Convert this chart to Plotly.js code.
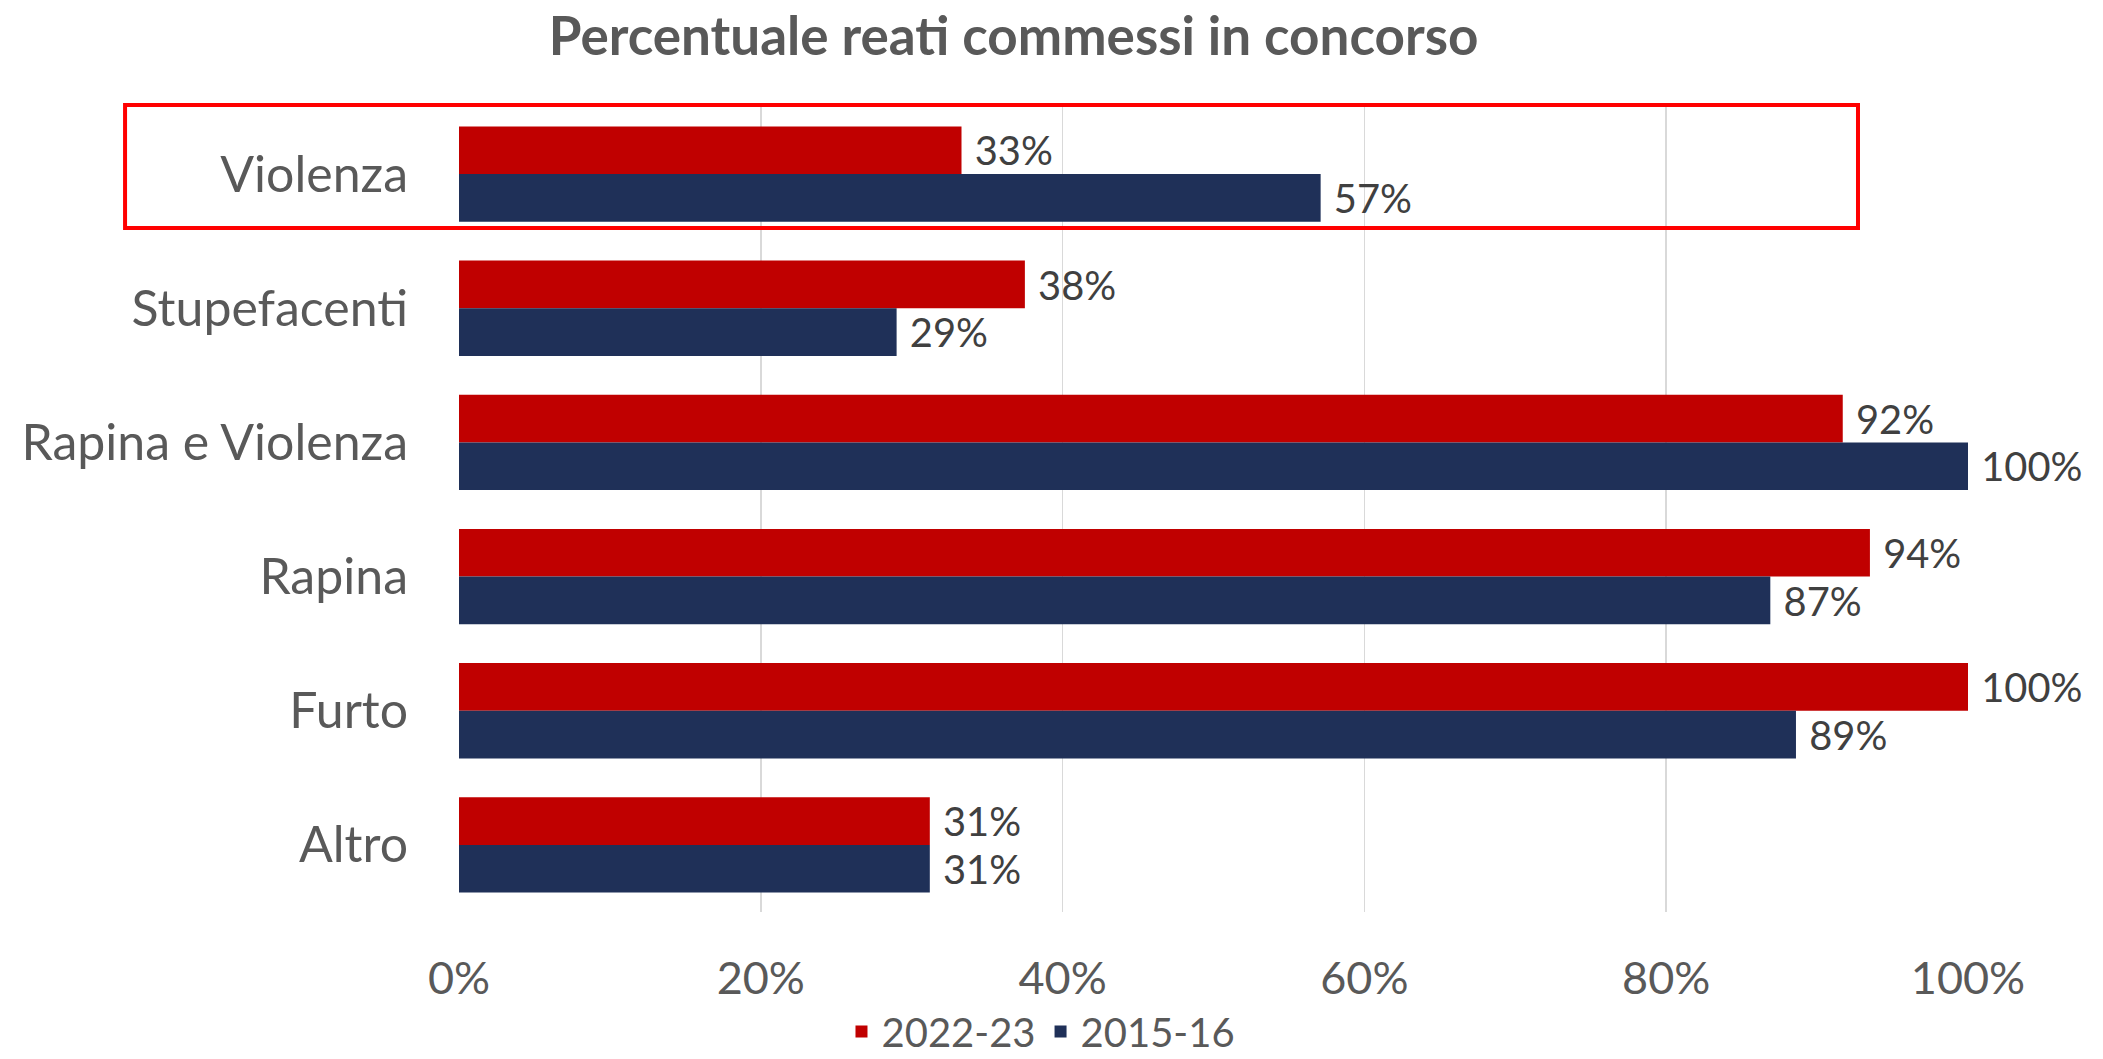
<!DOCTYPE html>
<html>
<head>
<meta charset="utf-8">
<script src="https://cdn.plot.ly/plotly-3.0.1.min.js"></script>
<style>html,body{margin:0;padding:0;background:#fff;}#chart{width:2103px;height:1059px;}</style>
</head>
<body>
<div id="chart"></div>
<script>
const categories = ["Violenza", "Stupefacenti", "Rapina e Violenza", "Rapina", "Furto", "Altro"];
const series2223 = [0.333, 0.375, 0.917, 0.935, 1.0, 0.312];
const series1516 = [0.571, 0.29, 1.0, 0.869, 0.886, 0.312];
const seriesNames = ["2022-23", "2015-16"];
const tickVals = [0, 0.2, 0.4, 0.6, 0.8, 1.0];
const tickText = ["0%", "20%", "40%", "60%", "80%", "100%"];

const FONT = "Lato, 'Open Sans', sans-serif";
const labelFont = {family: FONT, size: 46, color: "#404040"};
const fmt = v => "\u00A0" + Math.round(v*100) + "%";

const traces = [
  {type: "bar", orientation: "h", name: seriesNames[0], y: categories, x: series2223,
   marker: {color: "#C00000"}, text: series2223.map(fmt),
   textposition: "outside", textfont: labelFont, cliponaxis: false, hoverinfo: "skip"},
  {type: "bar", orientation: "h", name: seriesNames[1], y: categories, x: series1516,
   marker: {color: "#1F3058"}, text: series1516.map(fmt),
   textposition: "outside", textfont: labelFont, cliponaxis: false, hoverinfo: "skip"}
];

const layout = {
  width: 2103, height: 1059,
  margin: {l: 459, r: 135, t: 107, b: 147},
  paper_bgcolor: "#fff", plot_bgcolor: "#fff",
  font: {family: FONT, color: "#595959"},
  title: {text: "<b>Percentuale reati commessi in concorso</b>", font: {family: FONT, size: 53, color: "#595959"},
          xref: "container", x: 0.482, xanchor: "center", yref: "container", y: 0.966, yanchor: "middle"},
  barmode: "group", bargap: 0.29, bargroupgap: 0,
  xaxis: {range: [0, 1], tickvals: tickVals, ticktext: tickText, showgrid: true, gridcolor: "#D9D9D9", gridwidth: 1.5,
          zeroline: false, showline: false, ticks: "", ticklabelstandoff: 36,
          tickfont: {family: FONT, size: 45, color: "#595959"}, fixedrange: true},
  yaxis: {autorange: "reversed", type: "category", showgrid: false, zeroline: false, showline: false, ticks: "",
          ticklabelstandoff: 50, tickfont: {family: FONT, size: 50, color: "#595959"}, fixedrange: true},
  showlegend: true,
  legend: {orientation: "h", xref: "container", yref: "container", x: 0.495, xanchor: "center", y: 0.026, yanchor: "middle",
           font: {family: FONT, size: 40, color: "#595959"}, traceorder: "normal", itemwidth: 30},
  shapes: [{type: "rect", xref: "paper", yref: "paper", x0: -0.2213, x1: 0.9271, y0: 0.8497, y1: 1.0025,
            line: {color: "#FF0000", width: 4}, fillcolor: "rgba(0,0,0,0)"}]
};

Plotly.newPlot("chart", traces, layout, {displayModeBar: false, staticPlot: true});
</script>
</body>
</html>
